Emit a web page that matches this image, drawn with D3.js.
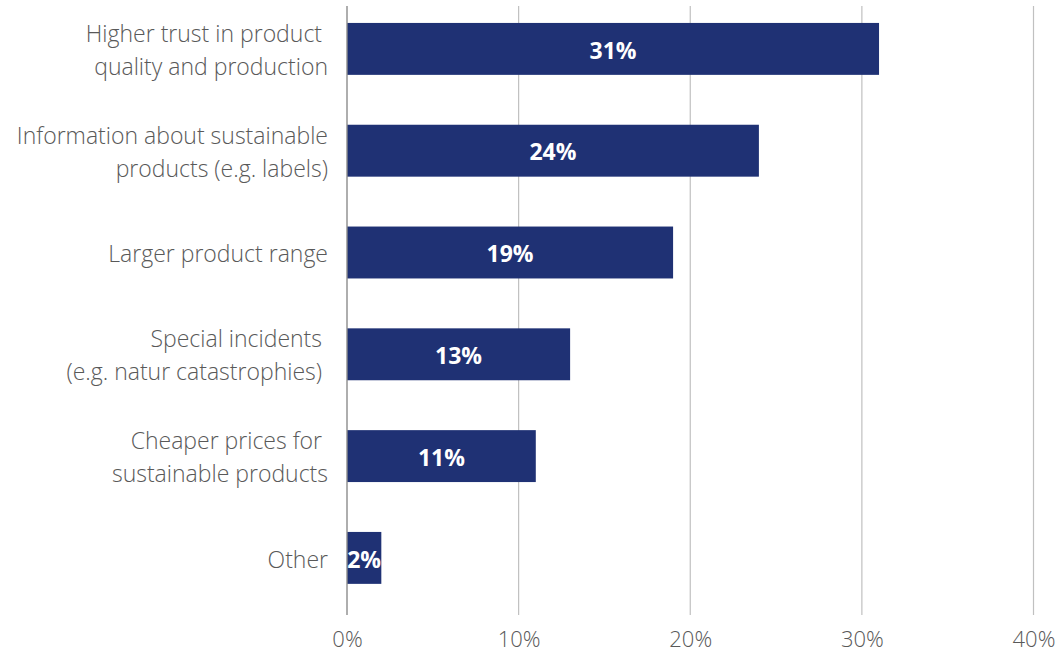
<!DOCTYPE html>
<html>
<head>
<meta charset="utf-8">
<script src="https://cdn.jsdelivr.net/npm/d3@7"></script>
<style>
  html, body { margin: 0; padding: 0; background: #fff; }
  svg { display: block; }
  .cat { font-family: "Open Sans", sans-serif; font-weight: 300; font-size: 23px; fill: #595959; }
  .tick text { font-family: "Open Sans", sans-serif; font-weight: 300; font-size: 22px; fill: #595959; }
  .val { font-family: "Open Sans", sans-serif; font-weight: 700; font-size: 23px; fill: #fff; }
</style>
</head>
<body>
<svg id="chart" width="1061" height="652"></svg>
<script>
// Reasons for buying more sustainable products (share of respondents, %)
const categories = [
  ["Higher trust in product ", "quality and production"],
  ["Information about sustainable", "products (e.g. labels)"],
  ["Larger product range"],
  ["Special incidents ", "(e.g. natur catastrophies) "],
  ["Cheaper prices for ", "sustainable products"],
  ["Other"]
];
const values = [31, 24, 19, 13, 11, 2];
const xTicks = [0, 10, 20, 30, 40];

const svg = d3.select("#chart");
const left = 347, right = 1033.5;
const gridTop = 6, gridBottom = 615;

const x = d3.scaleLinear().domain([0, 40]).range([left, right]);
const y = d3.scaleBand()
  .domain(d3.range(categories.length))
  .range([-2, 608.8])
  .paddingInner(0.49)
  .paddingOuter(0.245);

// vertical gridlines
svg.append("g")
  .selectAll("line")
  .data(xTicks.filter(d => d > 0))
  .join("line")
  .attr("x1", d => x(d)).attr("x2", d => x(d))
  .attr("y1", gridTop).attr("y2", gridBottom)
  .attr("stroke", "#c0c0c0").attr("stroke-width", 1.2);

// bars
svg.append("g")
  .selectAll("rect")
  .data(values)
  .join("rect")
  .attr("x", x(0))
  .attr("y", (d, i) => y(i))
  .attr("width", d => x(d) - x(0))
  .attr("height", y.bandwidth())
  .attr("fill", "#1f3174");

// zero axis line
svg.append("line")
  .attr("x1", x(0)).attr("x2", x(0))
  .attr("y1", gridTop).attr("y2", gridBottom)
  .attr("stroke", "#8c8c8c").attr("stroke-width", 1.4);

// value labels centred in each bar
svg.append("g")
  .selectAll("text")
  .data(values)
  .join("text")
  .attr("class", "val")
  .attr("x", d => (x(0) + x(d)) / 2)
  .attr("y", (d, i) => y(i) + y.bandwidth() / 2)
  .attr("dy", "0.42em")
  .attr("text-anchor", "middle")
  .text(d => d + "%");

// category labels
const lineH = 33;
svg.append("g")
  .selectAll("text")
  .data(categories)
  .join("text")
  .attr("class", "cat")
  .attr("text-anchor", "end")
  .attr("xml:space", "preserve")
  .attr("transform", (d, i) => `translate(328,${y(i) + y.bandwidth() / 2})`)
  .each(function (lines) {
    const t = d3.select(this);
    const offset = -(lines.length - 1) * lineH / 2;
    lines.forEach((ln, k) => {
      t.append("tspan")
        .attr("x", 0)
        .attr("y", offset + k * lineH)
        .attr("dy", "0.42em")
        .text(ln);
    });
  });

// x axis tick labels
const xAxis = d3.axisBottom(x)
  .tickValues(xTicks)
  .tickSize(0)
  .tickPadding(0)
  .tickFormat(d => d + "%");
const ax = svg.append("g")
  .attr("transform", `translate(0,${gridBottom})`)
  .call(xAxis);
ax.select(".domain").remove();
ax.selectAll("text").attr("dy", "0").attr("y", 32);
</script>
</body>
</html>
